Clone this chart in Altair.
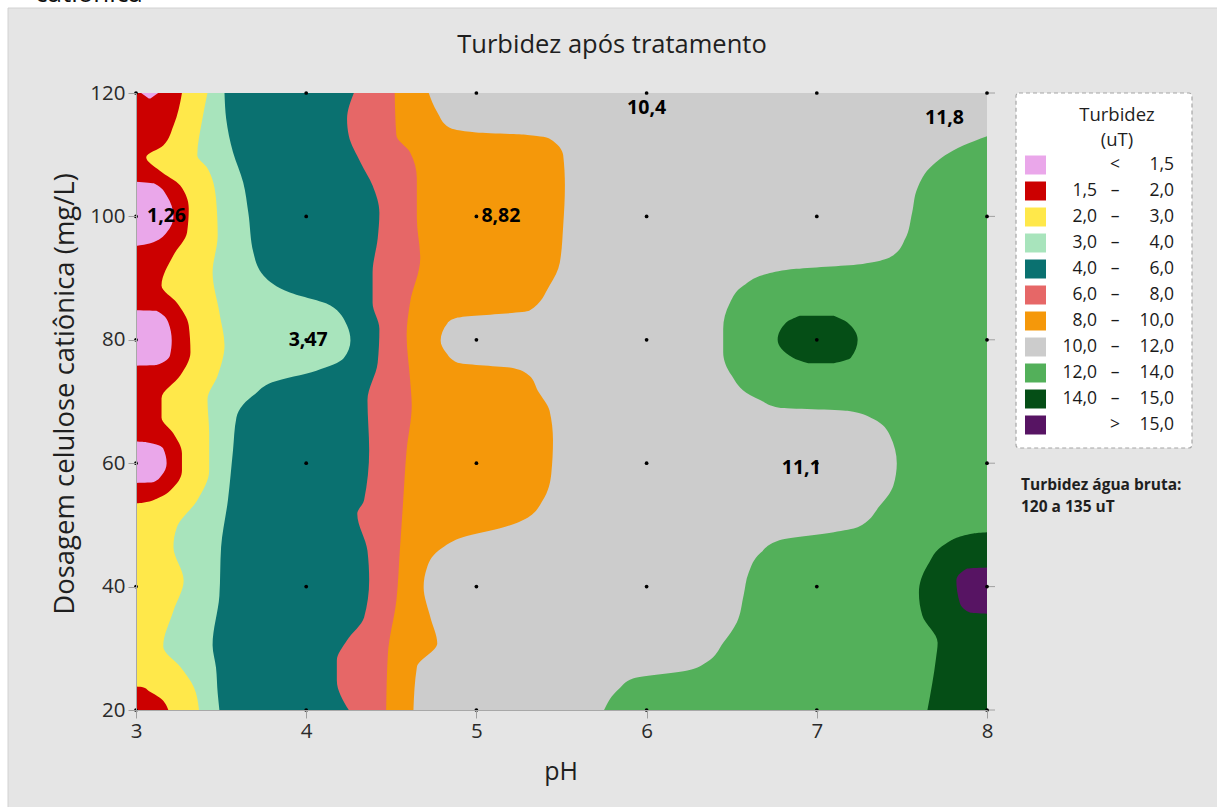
import altair as alt
import pandas as pd

# Experimental grid: pH levels x cationic cellulose dose (mg/L)
PH_LEVELS = [3, 4, 5, 6, 7, 8]
DOSE_LEVELS = [20, 40, 60, 80, 100, 120]

# Observations printed on the map
LABEL_PH = [3, 4, 5, 6, 7, 8]
LABEL_DOSE = [100, 80, 100, 120, 60, 120]
LABEL_VALUE = [1.26, 3.47, 8.82, 10.4, 11.1, 11.8]

# Turbidity classes (uT) and their fills
CLASS_BREAKS = [1.5, 2.0, 3.0, 4.0, 6.0, 8.0, 10.0, 12.0, 14.0, 15.0]
CLASS_COLORS = ["#eaa7ea", "#cc0000", "#ffe84a", "#a8e4bc", "#0a7170", "#e66767",
                "#f5980a", "#cccccc", "#53b05a", "#054e16", "#571463"]

# Contour boundaries as (dose, pH) pairs
EDGE_RED_TOP = [(53.5, 3.0), (53.6, 3.04), (54.5, 3.14), (56.1, 3.22), (58.8, 3.27), (61.6, 3.27),
                (64.8, 3.22), (67.4, 3.15), (70.5, 3.15), (74.2, 3.26), (78, 3.32), (82.3, 3.31),
                (86, 3.24), (88.8, 3.15), (93.7, 3.22), (97.4, 3.3), (101.3, 3.31), (105, 3.26),
                (107.4, 3.14), (109.6, 3.06), (111.5, 3.16), (114.7, 3.22), (120, 3.27)]
EDGE_RED_BOTTOM = [(20, 3.19), (22.0, 3.14), (23.0, 3.08), (23.7, 3.04), (23.8, 3.0)]
EDGE_PINK_100 = [(95.2, 3.0), (95.6, 3.08), (97.4, 3.18), (100, 3.22), (103.4, 3.18), (105.3, 3.11), (105.6, 3.0)]
EDGE_PINK_80 = [(75.8, 3.0), (75.9, 3.12), (77.5, 3.2), (79.9, 3.21), (82.8, 3.19), (84.7, 3.12), (84.8, 3.0)]
EDGE_PINK_60 = [(56.8, 3.0), (56.9, 3.1), (58, 3.15), (60, 3.18), (62.4, 3.16), (63.4, 3.06), (63.5, 3.0)]
PINK_TOP_BAND = [(119.1, 3.075, 3.085), (120, 3.03, 3.13)]

EDGE_LIGHTGREEN = [(20, 3.37), (23.7, 3.34), (27, 3.26), (30.3, 3.16), (36.1, 3.22), (41, 3.28),
                   (46.4, 3.22), (49.6, 3.24), (54, 3.36), (58.8, 3.43), (64.8, 3.43), (70.3, 3.42),
                   (74.2, 3.48), (79.1, 3.52), (84.4, 3.49), (90.9, 3.45), (96.9, 3.48), (102.9, 3.47),
                   (107.8, 3.42), (109.9, 3.36), (115.8, 3.39), (120, 3.42)]
EDGE_TEAL = [(20, 3.49), (22.7, 3.48), (26.9, 3.47), (30.5, 3.45), (38.5, 3.49), (46.4, 3.5), (54, 3.54),
             (62.1, 3.57), (67.4, 3.59), (69.5, 3.63), (71.2, 3.7), (73.1, 3.8), (75, 4.06), (77, 4.22),
             (79.9, 4.26), (82.3, 4.24), (85.6, 4.14), (87.7, 3.9), (90.4, 3.75), (94.1, 3.69),
             (100.6, 3.66), (105.5, 3.63), (110.4, 3.57), (115.8, 3.53), (120, 3.52)]
EDGE_SALMON = [(20, 4.25), (24.8, 4.18), (28, 4.18), (31.3, 4.24), (35, 4.34), (41, 4.37), (45.8, 4.36),
               (51.8, 4.3), (54, 4.34), (62.1, 4.37), (70.2, 4.36), (76.3, 4.42), (81.8, 4.43),
               (86, 4.39), (90.9, 4.39), (96.4, 4.42), (100.6, 4.43), (105, 4.39), (108.7, 4.32),
               (113.1, 4.25), (115.8, 4.24), (120, 4.28)]
EDGE_ORANGE = [(20, 4.47), (29.1, 4.48), (37.8, 4.53), (45.8, 4.55), (54, 4.57), (62.1, 4.59),
               (69.4, 4.62), (73.7, 4.61), (80.7, 4.59), (86, 4.61), (93.2, 4.67), (99.7, 4.65),
               (106.2, 4.65), (110.4, 4.61), (113.1, 4.53), (120, 4.52)]
EDGE_GREY = [(20, 4.63), (26.9, 4.65), (30.8, 4.77), (35, 4.73), (39.9, 4.69), (43.1, 4.71),
             (46.3, 4.8), (48, 4.92), (49.6, 5.16), (51, 5.29), (54, 5.39), (58.3, 5.44), (63.7, 5.45),
             (68.5, 5.43), (71.8, 5.36), (74.2, 5.31), (75.4, 5.22), (76.3, 4.89), (78, 4.82),
             (79.9, 4.79), (82.7, 4.83), (83.6, 4.89), (84.7, 5.31), (88.8, 5.43), (92.5, 5.49),
             (98.5, 5.51), (105, 5.52), (109.9, 5.51), (112.6, 5.43), (113.2, 5.3), (113.6, 5.0),
             (114.4, 4.84), (116.9, 4.77), (120, 4.72)]
EDGE_GREEN = [(20, 5.75), (23.5, 5.84), (25.1, 5.92), (26.4, 6.24), (27.7, 6.35), (30.9, 6.45),
              (34.2, 6.53), (38.6, 6.57), (42.3, 6.6), (45.5, 6.67), (47.5, 6.78), (48.8, 7.1),
              (49.6, 7.24), (53.1, 7.37), (56.4, 7.45), (60, 7.47), (64.5, 7.43), (67.2, 7.33),
              (68.5, 7.18), (69, 6.78), (70.2, 6.67), (71, 6.61), (74.2, 6.5), (78, 6.45),
              (81.8, 6.45), (86, 6.49), (88.8, 6.57), (90.7, 6.71), (91.5, 6.88), (92.3, 7.27),
              (93.7, 7.45), (96.4, 7.52), (100.6, 7.56), (104.5, 7.59), (108.3, 7.68),
              (111.5, 7.86), (113, 8.0)]
EDGE_DARKGREEN = [(20, 7.65), (28.3, 7.7), (30.9, 7.71), (35.3, 7.62), (39, 7.6), (43.4, 7.65),
                  (47, 7.76), (48.6, 7.92), (48.8, 8.0)]
DARKGREEN_BAND = [(76.2, 6.95, 7.1), (77.1, 6.86, 7.2), (80, 6.77, 7.24), (82.8, 6.82, 7.18),
                  (83.9, 6.9, 7.1)]
EDGE_PURPLE = [(35.6, 8.0), (35.8, 7.9), (37.4, 7.84), (41, 7.82), (42.9, 7.88), (43.1, 8.0)]

PH_MIN, PH_MAX = 3, 8
DOSE_MIN, DOSE_MAX = 20, 120

FONT = "Open Sans"
W, H = 851, 617

x_scale = alt.Scale(domain=[PH_MIN, PH_MAX], nice=False, zero=False)
y_scale = alt.Scale(domain=[DOSE_MIN, DOSE_MAX], nice=False, zero=False)
x_axis = alt.Axis(values=PH_LEVELS, title=None, grid=False, format="d", tickSize=8,
                  tickColor="#a0a0a0", domainColor="#a8a8a8", labelFont=FONT,
                  labelFontSize=20.5, labelColor="#2a2a2a", labelPadding=3,
                  labelFlush=False, zindex=2)
y_axis = alt.Axis(values=DOSE_LEVELS, title=None, grid=False, format="d", tickSize=8,
                  tickColor="#a0a0a0", domainColor="#a8a8a8", labelFont=FONT,
                  labelFontSize=20.5, labelColor="#2a2a2a", labelPadding=3,
                  labelFlush=False, zindex=2)


def band_frame(points, kind):
    if kind == "right":
        rows = [{"dose": d, "lo": p, "hi": PH_MAX} for d, p in points]
    elif kind == "left":
        rows = [{"dose": d, "lo": PH_MIN, "hi": p} for d, p in points]
    else:
        rows = [{"dose": d, "lo": a, "hi": b} for d, a, b in points]
    return pd.DataFrame(rows)


def area(points, kind, color):
    return alt.Chart(band_frame(points, kind)).mark_area(
        orient="horizontal", interpolate="monotone", color=color, clip=True
    ).encode(
        y=alt.Y("dose:Q", scale=y_scale, axis=y_axis),
        x=alt.X("lo:Q", scale=x_scale, axis=x_axis),
        x2="hi:Q",
    )


full = [(DOSE_MIN, PH_MIN), (DOSE_MAX, PH_MIN)]
areas = [
    area(full, "right", CLASS_COLORS[2]),
    area(EDGE_RED_TOP, "left", CLASS_COLORS[1]),
    area(EDGE_RED_BOTTOM, "left", CLASS_COLORS[1]),
    area(EDGE_PINK_100, "left", CLASS_COLORS[0]),
    area(EDGE_PINK_80, "left", CLASS_COLORS[0]),
    area(EDGE_PINK_60, "left", CLASS_COLORS[0]),
    area(PINK_TOP_BAND, "band", CLASS_COLORS[0]),
    area(EDGE_LIGHTGREEN, "right", CLASS_COLORS[3]),
    area(EDGE_TEAL, "right", CLASS_COLORS[4]),
    area(EDGE_SALMON, "right", CLASS_COLORS[5]),
    area(EDGE_ORANGE, "right", CLASS_COLORS[6]),
    area(EDGE_GREY, "right", CLASS_COLORS[7]),
    area(EDGE_GREEN, "right", CLASS_COLORS[8]),
    area(EDGE_DARKGREEN, "right", CLASS_COLORS[9]),
    area(DARKGREEN_BAND, "band", CLASS_COLORS[9]),
    area(EDGE_PURPLE, "right", CLASS_COLORS[10]),
]

# Outer panel behind everything
blank = pd.DataFrame({"k": [0]})
panel = alt.Chart(blank).mark_rect(fill="#e5e5e5", stroke="#d2d2d2", strokeWidth=1).encode(
    x=alt.value(-128), x2=alt.value(1100), y=alt.value(-85), y2=alt.value(730)
)

grid = pd.DataFrame([{"ph": p, "dose": d} for d in DOSE_LEVELS for p in PH_LEVELS])
points = alt.Chart(grid).mark_circle(size=14, color="black", opacity=1).encode(
    x=alt.X("ph:Q", scale=x_scale, axis=x_axis),
    y=alt.Y("dose:Q", scale=y_scale, axis=y_axis),
)

# Tick marks on the right edge
right_ticks = alt.Chart(pd.DataFrame({"dose": DOSE_LEVELS})).mark_rule(
    color="#a0a0a0", strokeWidth=1
).encode(
    y=alt.Y("dose:Q", scale=y_scale, axis=y_axis), x=alt.value(W), x2=alt.value(W + 8)
)

# Value labels: (align, dx, dy) for each printed observation
LABEL_STYLE = [("left", 11, 0), ("center", 2, 0), ("left", 5, 0),
               ("center", 0, 15), ("right", 4, 5), ("right", -23, 25)]
labels = []
for ph, dose, val, (al, dx, dy) in zip(LABEL_PH, LABEL_DOSE, LABEL_VALUE, LABEL_STYLE):
    df = pd.DataFrame({"ph": [ph], "dose": [dose], "txt": [str(val).replace(".", ",")]})
    labels.append(
        alt.Chart(df).mark_text(
            align=al, baseline="middle", dx=dx, dy=dy, font=FONT, fontSize=19.5,
            fontWeight="bold", color="black"
        ).encode(
            x=alt.X("ph:Q", scale=x_scale, axis=x_axis),
            y=alt.Y("dose:Q", scale=y_scale, axis=y_axis),
            text="txt:N",
        )
    )


def fixed_text(txt, x, y, size, weight="normal", align="center", angle=0, color="#1f1f1f"):
    return alt.Chart(pd.DataFrame({"t": [txt]})).mark_text(
        align=align, baseline="middle", font=FONT, fontSize=size, fontWeight=weight,
        angle=angle, color=color
    ).encode(x=alt.value(x), y=alt.value(y), text="t:N")


titles = [
    fixed_text("Turbidez após tratamento", 476, -48, 25.5),
    fixed_text("pH", 425, 679, 25),
    fixed_text("Dosagem celulose catiônica (mg/L)", -70, 301, 27.5, angle=270),
    alt.Chart(pd.DataFrame({"t": ["catiônica"]})).mark_text(
        align="left", baseline="alphabetic", font=FONT, fontSize=26, color="#111111"
    ).encode(x=alt.value(-101), y=alt.value(-91), text="t:N"),
]

# Legend block
LEG_X0, LEG_X1, LEG_Y0, LEG_Y1 = 880, 1056, 0, 355
ROW0, ROW_STEP = 72, 26


def fmt(v):
    return f"{v:.1f}".replace(".", ",")


n_cls = len(CLASS_COLORS)
leg_rows = []
for i in range(n_cls):
    if i == 0:
        lo, mid, hi = "", "<", fmt(CLASS_BREAKS[0])
    elif i == n_cls - 1:
        lo, mid, hi = "", ">", fmt(CLASS_BREAKS[-1])
    else:
        lo, mid, hi = fmt(CLASS_BREAKS[i - 1]), "–", fmt(CLASS_BREAKS[i])
    yc = ROW0 + ROW_STEP * i
    leg_rows.append({"color": CLASS_COLORS[i], "lo": lo, "mid": mid, "hi": hi,
                     "yc": yc, "y0": yc - 9.5, "y1": yc + 9.5})
leg_df = pd.DataFrame(leg_rows)

leg_box = alt.Chart(blank).mark_rect(
    fill="white", stroke="#a6a6a6", strokeDash=[4, 3], strokeWidth=1.2, cornerRadius=3
).encode(x=alt.value(LEG_X0), x2=alt.value(LEG_X1), y=alt.value(LEG_Y0), y2=alt.value(LEG_Y1))
leg_swatch = alt.Chart(leg_df).mark_rect().encode(
    x=alt.value(889), x2=alt.value(910),
    y=alt.Y("y0:Q", scale=None), y2="y1:Q",
    color=alt.Color("color:N", scale=None),
)


def leg_col(field, x, align):
    return alt.Chart(leg_df).mark_text(
        align=align, baseline="middle", font=FONT, fontSize=17.5, color="#1a1a1a"
    ).encode(x=alt.value(x), y=alt.Y("yc:Q", scale=None), text=f"{field}:N")


legend = [
    leg_box, leg_swatch,
    leg_col("lo", 961, "right"), leg_col("mid", 979, "center"), leg_col("hi", 1038, "right"),
    fixed_text("Turbidez", 981, 22, 18.5),
    fixed_text("(uT)", 981, 47, 18.5),
    fixed_text("Turbidez água bruta:", 885, 392, 15.5, weight="bold", align="left"),
    fixed_text("120 a 135 uT", 885, 414, 15.5, weight="bold", align="left"),
]

chart = alt.layer(
    panel, *areas, right_ticks, points, *labels, *legend, *titles
).properties(
    width=W, height=H,
    autosize=alt.AutoSizeParams(type="none"),
    padding={"left": 136, "top": 93, "right": 230, "bottom": 97},
).configure(background="white").configure_view(stroke="#a8a8a8", strokeWidth=1)

chart.save("out.html", embed_options={"renderer": "svg", "actions": False})
